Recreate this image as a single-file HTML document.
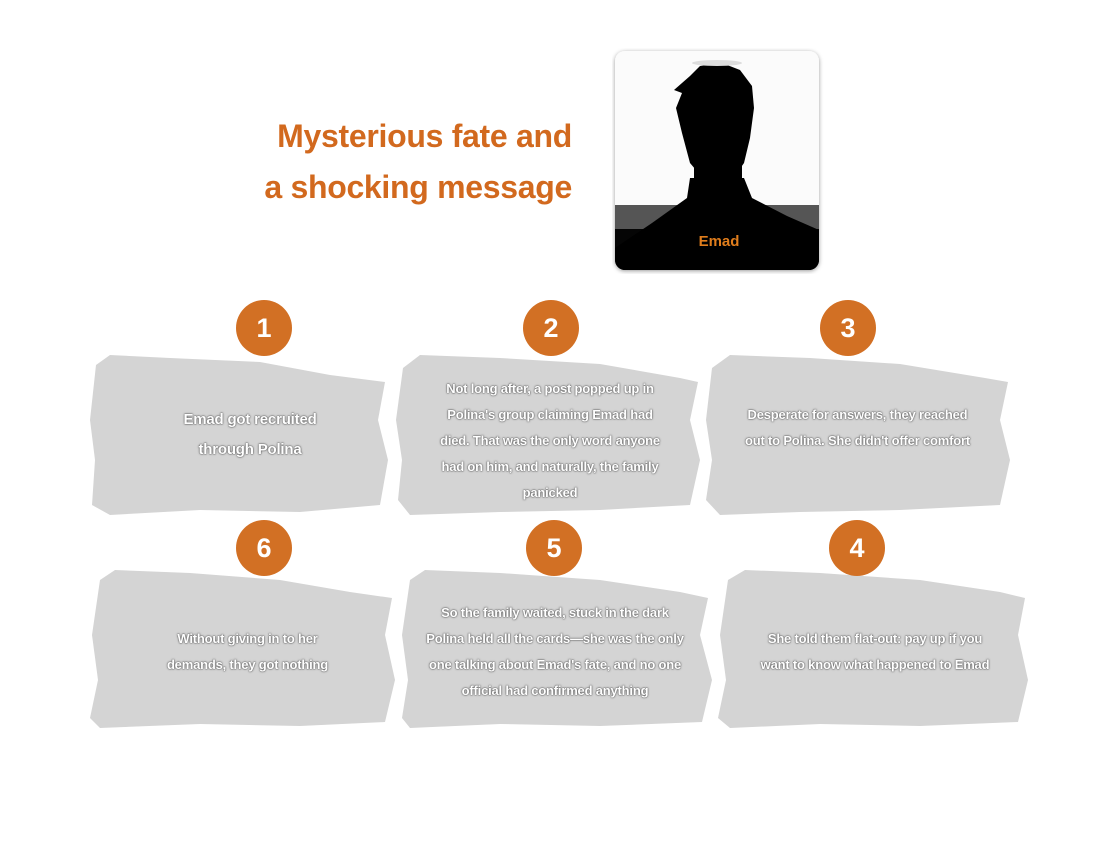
<!DOCTYPE html><html><head><style>
body{margin:0;background:#fff;width:1110px;height:862px;position:relative;overflow:hidden;font-family:"Liberation Sans",sans-serif}
.t{position:absolute;color:#d2691e;font-weight:bold;font-size:32px;text-align:right;right:538px;line-height:51px;top:111px;white-space:nowrap;letter-spacing:-0.3px}
.c{position:absolute;width:56px;height:56px;border-radius:50%;background:#d27024;color:#fff;font-weight:bold;font-size:27px;text-align:center;line-height:56px}
.b{position:absolute}
.tx{position:absolute;color:#fff;font-size:13px;font-weight:bold;text-align:center;line-height:26px;text-shadow:0 0 2px #555,0 0 1px #333;display:flex;align-items:center;justify-content:center;letter-spacing:-0.2px}
</style></head><body>
<div class="t">Mysterious fate and<br>a shocking message</div>
<svg style="position:absolute;left:612px;top:48px" width="212" height="226">
<defs><filter id="s"><feDropShadow dx="0" dy="1" stdDeviation="2" flood-opacity=".4"/></filter></defs>
<g filter="url(#s)"><rect x="3" y="3" width="204" height="219" rx="10" fill="#fbfbfb"/></g>
<clipPath id="cp"><rect x="3" y="3" width="204" height="219" rx="10"/></clipPath>
<g clip-path="url(#cp)">
<rect x="3" y="157" width="204" height="24" fill="#555"/>
<rect x="3" y="181" width="204" height="45" fill="#050505"/>
<path d="M3 200 L40 175 L75 150 L78 130 L132 130 L140 150 L175 168 L207 182 L207 226 L3 226Z" fill="#000"/>
<path d="M70 85 L64 60 L70 45 L62 42 L78 28 L88 18 L110 15 L128 22 L140 38 L142 60 L138 90 L132 115 L118 135 L95 135 L78 115Z" fill="#000"/>
<rect x="82" y="110" width="48" height="50" fill="#000"/>
<ellipse cx="105" cy="15" rx="25" ry="3" fill="#ddd"/>
</g>
<text x="107" y="198" text-anchor="middle" fill="#e07d1c" font-weight="bold" font-size="15" font-family="Liberation Sans">Emad</text>
</svg>
<svg class="b" style="left:0;top:0" width="1110" height="862">
<g fill="#d4d4d4">
<path d="M96 365 L110 355 L170 358 L260 362 L330 375 L385 382 L378 420 L388 460 L380 505 L300 512 L200 510 L110 515 L92 505 L95 460 L90 420Z"/>
<path d="M403 368 L420 355 L500 358 L600 364 L680 378 L698 382 L690 420 L700 460 L690 505 L600 510 L500 512 L410 515 L398 500 L402 460 L396 420Z"/>
<path d="M712 368 L730 355 L810 358 L900 364 L985 378 L1008 382 L1000 420 L1010 460 L1000 505 L900 510 L800 512 L720 515 L706 500 L712 460 L706 420Z"/>
<path d="M100 580 L115 570 L190 573 L280 580 L350 592 L392 598 L385 635 L395 680 L385 722 L300 726 L200 724 L100 728 L90 718 L98 680 L92 635Z"/>
<path d="M410 580 L425 570 L500 573 L600 580 L680 592 L708 598 L700 635 L712 680 L702 722 L600 726 L500 724 L410 728 L402 718 L408 680 L402 635Z"/>
<path d="M728 580 L745 570 L820 573 L920 580 L1000 592 L1025 598 L1018 635 L1028 680 L1018 722 L920 726 L820 724 L730 728 L718 718 L726 680 L720 635Z"/>
</g></svg>
<div class="c" style="left:236px;top:300px">1</div>
<div class="c" style="left:523px;top:300px">2</div>
<div class="c" style="left:820px;top:300px">3</div>
<div class="c" style="left:236px;top:520px">6</div>
<div class="c" style="left:526px;top:520px">5</div>
<div class="c" style="left:829px;top:520px">4</div>
<div class="tx" style="left:150px;top:375px;width:200px;height:120px;font-size:15px;line-height:30px">Emad got recruited<br>through Polina</div>
<div class="tx" style="left:400px;top:375px;width:300px;height:132px">Not long after, a post popped up in<br>Polina's group claiming Emad had<br>died. That was the only word anyone<br>had on him, and naturally, the family<br>panicked</div>
<div class="tx" style="left:705px;top:375px;width:305px;height:106px">Desperate for answers, they reached<br>out to Polina. She didn't offer comfort</div>
<div class="tx" style="left:120px;top:600px;width:255px;height:104px">Without giving in to her<br>demands, they got nothing</div>
<div class="tx" style="left:400px;top:600px;width:310px;height:104px">So the family waited, stuck in the dark<br>Polina held all the cards—she was the only<br>one talking about Emad's fate, and no one<br>official had confirmed anything</div>
<div class="tx" style="left:725px;top:600px;width:300px;height:104px">She told them flat-out: pay up if you<br>want to know what happened to Emad</div>
</body></html>
